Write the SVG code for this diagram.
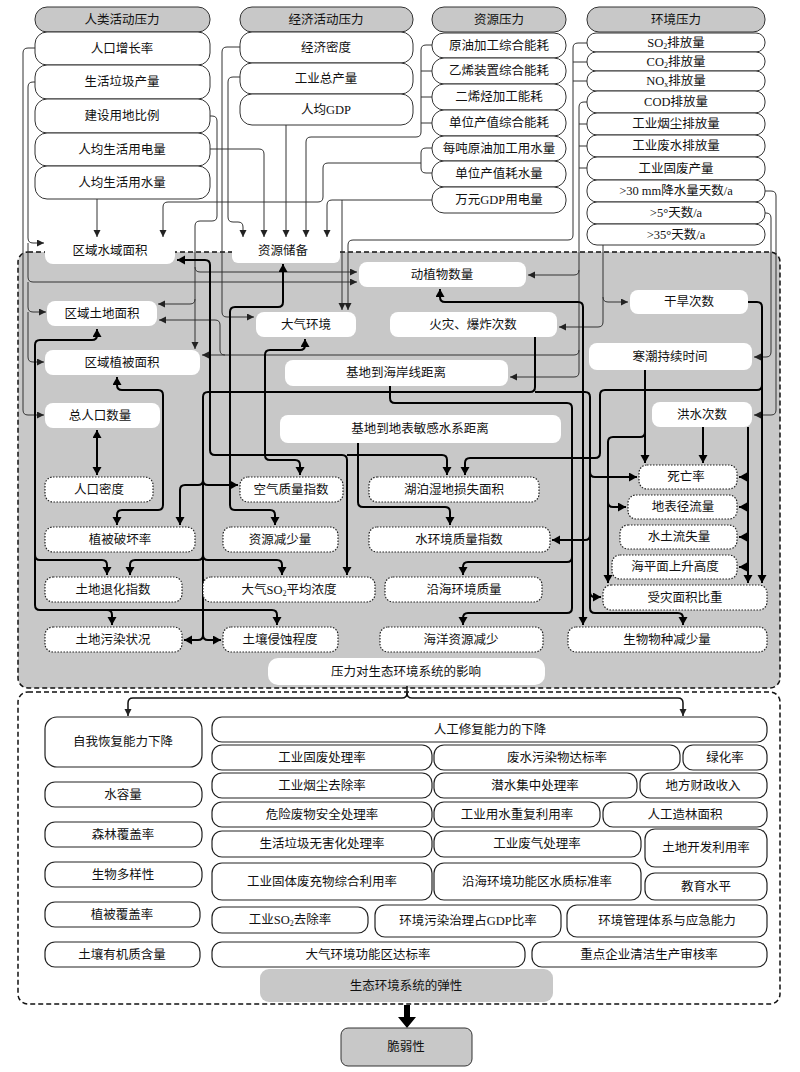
<svg xmlns="http://www.w3.org/2000/svg" width="800" height="1072" viewBox="0 0 800 1072">
<defs>
<marker id="a1" markerUnits="userSpaceOnUse" markerWidth="8" markerHeight="8" refX="7" refY="3.5" orient="auto"><path d="M0,0 L7,3.5 L0,7 z" fill="#222"/></marker>
<marker id="a2" markerUnits="userSpaceOnUse" markerWidth="10" markerHeight="10" refX="8" refY="4.5" orient="auto-start-reverse"><path d="M0,0 L8,4.5 L0,9 z" fill="#000"/></marker>
<style>
text{font-family:"Liberation Serif","Noto Sans CJK SC",serif;font-size:12.5px;fill:#111;text-anchor:middle;dominant-baseline:central}
.hd{fill:#c8c8c8;stroke:#333;stroke-width:1}
.tn{fill:#fff;stroke:#333;stroke-width:1}
.wn{fill:#fff;stroke:none}
.dn{fill:#fff;stroke:#222;stroke-width:1.2;stroke-dasharray:1.5 1.5}
.bn{fill:#fff;stroke:#222;stroke-width:1.2}
.t{fill:none;stroke:#333;stroke-width:1}
.ta{fill:none;stroke:#333;stroke-width:1;marker-end:url(#a1)}
.ka{fill:none;stroke:#000;stroke-width:2;marker-end:url(#a2)}
.kb{fill:none;stroke:#000;stroke-width:2;marker-end:url(#a2);marker-start:url(#a2)}
.ma{fill:none;stroke:#111;stroke-width:1.5;marker-end:url(#a1)}
.reg{fill:#c8c8c8;stroke:#111;stroke-width:1.5;stroke-dasharray:5 3}
.reg2{fill:#fff;stroke:#111;stroke-width:1.5;stroke-dasharray:5 3}
</style>
</defs>
<rect width="800" height="1072" fill="#fff"/>
<g id="regions">
<rect class="reg" x="18" y="252" width="762" height="436" rx="10"/>
<rect class="reg2" x="18" y="692" width="762" height="312" rx="10"/>
</g>
<g id="connectors">
<!-- thin top connectors -->
<path class="ta" d="M35,48 H28 Q23,48 23,53 V410 Q23,415 28,415 H44"/>
<path class="ta" d="M35,82 H33 Q28,82 28,87 V238 Q28,243 33,243 H44"/>
<path class="ta" d="M28,243 V277 Q28,282 33,282 H357"/>
<path class="ta" d="M28,282 V307 Q28,312 33,312 H46"/>
<path class="ta" d="M28,312 V357 Q28,362 33,362 H44"/>
<path class="ta" d="M210,116 H212 Q217,116 217,121 V216 Q217,221 212,221 H200 Q195,221 195,226 V349"/>
<path class="ta" d="M195,267 Q195,272 200,272 H357"/>
<path class="ta" d="M195,299 Q195,304 190,304 H158"/>
<path class="ta" d="M210,149 H259 Q264,149 264,154 V237"/>
<path class="ta" d="M97,199 V237"/>
<path class="ta" d="M240,77 H233 Q228,77 228,82 V217 Q228,222 233,222 H238 Q243,222 243,227 V237"/>
<path class="ta" d="M240,47 H227 Q222,47 222,52 V312 Q222,317 227,317 H254"/>
<path class="ta" d="M286,125 V237"/>
<path class="ta" d="M432,45 H426 Q421,45 421,50 V132 Q421,137 416,137 H311 Q306,137 306,142 V237"/>
<path class="t" d="M432,71 H421 M432,97 H421 M432,123 H421"/>
<path class="t" d="M432,148 H426 Q421,148 421,153 V168 Q421,173 426,173 H432"/>
<path class="ta" d="M421,163 H328 Q323,163 323,168 V197 Q323,202 318,202 H168 Q163,202 163,207 V237"/>
<path class="ta" d="M432,200 H332 Q327,200 327,205 V237"/>
<path class="ta" d="M342,200 Q342,200 342,205 V310"/>
<path class="ta" d="M587,43 H578 Q573,43 573,48 V235 Q573,240 568,240 H353 Q348,240 348,245 V310"/>
<path class="t" d="M587,62 H573 M587,81 H573"/>
<path class="ta" d="M587,102 H584 Q579,102 579,107 V270 Q579,275 574,275 H528"/>
<path class="t" d="M587,124 H579 M587,146 H579 M587,168 H579"/>
<path class="ta" d="M579,270 V350 Q579,355 574,355 H202"/>
<path class="ta" d="M579,350 V372 Q579,377 574,377 H510"/>
<path class="ta" d="M225,355 Q220,355 220,350 V325 Q220,320 215,320 H159"/>
<path class="ta" d="M603,245 V297 Q603,302 608,302 H628"/>
<path class="ta" d="M603,297 V322 Q603,327 598,327 H559"/>
<path class="ta" d="M765,213 H766 Q771,213 771,218 V352 Q771,357 766,357 H754"/>
<path class="ta" d="M765,191 H771 Q776,191 776,196 V410 Q776,415 771,415 H754"/>
<!-- thick connectors -->
<path class="kb" d="M97,329 V335 Q97,340 92,340 H40 Q35,340 35,345 V605 Q35,610 40,610 H272 Q277,610 277,615 V625"/>
<path class="ka" d="M35,555 Q35,560 40,560 H102 Q107,560 107,565 V575"/>
<path class="ka" d="M107,610 Q112,610 112,615 V625"/>
<path class="kb" d="M97,430 V475"/>
<path class="kb" d="M117,377 V385 Q117,390 122,390 H158 Q163,390 163,395 V505 Q163,510 158,510 H122 Q117,510 117,515 V525"/>
<path class="ka" d="M535,337 V387 Q535,392 530,392 H208 Q203,392 203,397 V635 Q203,640 198,640 H184"/>
<path class="ka" d="M203,635 Q203,640 208,640 H221"/>
<path class="ka" d="M203,480 Q203,485 198,485 H185 Q180,485 180,490 V525"/>
<path class="ka" d="M203,480 Q203,485 208,485 H238"/>
<path class="ka" d="M203,555 Q203,560 198,560 H135 Q130,560 130,565 V575"/>
<path class="ka" d="M203,555 Q203,560 208,560 H277 Q282,560 282,565 V575"/>
<path class="ka" d="M535,392 H585 Q590,392 590,397 V608 Q590,613 595,613 H678 Q683,613 683,618 V625"/>
<path class="ka" d="M590,472 Q590,477 595,477 H637"/>
<path class="ka" d="M590,535 Q590,540 585,540 H552"/>
<path class="ka" d="M590,592 Q590,597 595,597 H601"/>
<path class="ka" d="M390,386 V398 Q390,403 395,403 H567 Q572,403 572,408 V608 Q572,613 567,613 H468 Q463,613 463,618 V625"/>
<path class="ka" d="M572,557 Q572,562 567,562 H468 Q463,562 463,567 V575"/>
<path class="kb" d="M440,289 V297 Q440,302 445,302 H578 Q583,302 583,307 V625"/>
<path class="kb" d="M283,264 V302 Q283,307 278,307 H235 Q230,307 230,312 V505 Q230,510 235,510 H270 Q275,510 275,515 V525"/>
<path class="kb" d="M177,260 H205 Q210,260 210,265 V450 Q210,455 215,455 H342 Q347,455 347,460 V575"/>
<path class="ka" d="M347,455 H442 Q447,455 447,460 V475"/>
<path class="kb" d="M305,339 V345 Q305,350 300,350 H270 Q265,350 265,355 V455 Q265,460 270,460 H295 Q300,460 300,465 V475"/>
<path class="ka" d="M358,443 V502 Q358,507 363,507 H445 Q450,507 450,512 V525"/>
<path class="ka" d="M748,302 H757 Q762,302 762,307 V583"/>
<path class="ka" d="M762,385 Q762,390 757,390 H605 Q600,390 600,395 V453 Q600,458 595,458 H470 Q465,458 465,463 V475"/>
<path class="ka" d="M645,370 V463"/>
<path class="ka" d="M645,432 Q645,437 640,437 H613 Q608,437 608,442 V583"/>
<path class="ka" d="M608,502 Q608,507 613,507 H626"/>
<path class="ka" d="M703,427 V463"/>
<path class="ka" d="M748,427 V583"/>
<path class="ka" d="M748,472 Q748,477 743,477 H739"/>
<path class="ka" d="M748,502 Q748,507 743,507 H739"/>
<path class="ka" d="M748,532 Q748,537 743,537 H739"/>
<path class="ka" d="M748,562 Q748,567 743,567 H739"/>
<!-- bottom -->
<path class="ma" d="M407,686 V693 Q407,698 402,698 H133 Q128,698 128,703 V716"/>
<path class="ma" d="M407,693 Q407,698 412,698 H678 Q683,698 683,703 V716"/>
<path d="M404,1005 H410 V1017 H416 L407,1028 L398,1017 H404 Z" fill="#000"/>
</g>
<g id="col-human">
<rect class="hd" x="35" y="7" width="175" height="25" rx="12"/><text x="122" y="19.5">人类活动压力</text>
<rect class="tn" x="35" y="32" width="175" height="33" rx="12"/><text x="122" y="48.5">人口增长率</text>
<rect class="tn" x="35" y="65" width="175" height="34" rx="12"/><text x="122" y="82">生活垃圾产量</text>
<rect class="tn" x="35" y="99" width="175" height="34" rx="12"/><text x="122" y="116">建设用地比例</text>
<rect class="tn" x="35" y="133" width="175" height="33" rx="12"/><text x="122" y="149.5">人均生活用电量</text>
<rect class="tn" x="35" y="166" width="175" height="33" rx="12"/><text x="122" y="182.5">人均生活用水量</text>
</g>
<g id="col-econ">
<rect class="hd" x="240" y="7" width="173" height="25" rx="12"/><text x="326" y="19.5">经济活动压力</text>
<rect class="tn" x="240" y="32" width="173" height="31" rx="12"/><text x="326" y="47.5">经济密度</text>
<rect class="tn" x="240" y="63" width="173" height="31" rx="12"/><text x="326" y="78.5">工业总产量</text>
<rect class="tn" x="240" y="94" width="173" height="31" rx="12"/><text x="326" y="109.5">人均GDP</text>
</g>
<g id="col-res">
<rect class="hd" x="432" y="7" width="134" height="25" rx="12"/><text x="499" y="19.5">资源压力</text>
<rect class="tn" x="432" y="33" width="134" height="25" rx="12"/><text x="499" y="45.5">原油加工综合能耗</text>
<rect class="tn" x="432" y="58" width="134" height="26" rx="12"/><text x="499" y="71">乙烯装置综合能耗</text>
<rect class="tn" x="432" y="84" width="134" height="26" rx="12"/><text x="499" y="97">二烯烃加工能耗</text>
<rect class="tn" x="432" y="110" width="134" height="26" rx="12"/><text x="499" y="123">单位产值综合能耗</text>
<rect class="tn" x="432" y="136" width="134" height="25" rx="12"/><text x="499" y="148.5">每吨原油加工用水量</text>
<rect class="tn" x="432" y="161" width="134" height="26" rx="12"/><text x="499" y="174">单位产值耗水量</text>
<rect class="tn" x="432" y="187" width="134" height="26" rx="12"/><text x="499" y="200">万元GDP用电量</text>
</g>
<g id="col-env">
<rect class="hd" x="587" y="7" width="178" height="25" rx="12"/><text x="676" y="19.5">环境压力</text>
<rect class="tn" x="587" y="33" width="178" height="19" rx="9"/><text x="676" y="42.5">SO<tspan font-size="8" dy="3">2</tspan><tspan dy="-3">排放量</tspan></text>
<rect class="tn" x="587" y="52" width="178" height="19" rx="9"/><text x="676" y="61.5">CO<tspan font-size="8" dy="3">2</tspan><tspan dy="-3">排放量</tspan></text>
<rect class="tn" x="587" y="71" width="178" height="20" rx="9"/><text x="676" y="81">NO<tspan font-size="8" dy="3">x</tspan><tspan dy="-3">排放量</tspan></text>
<rect class="tn" x="587" y="91" width="178" height="22" rx="10"/><text x="676" y="102">COD排放量</text>
<rect class="tn" x="587" y="113" width="178" height="22" rx="10"/><text x="676" y="124">工业烟尘排放量</text>
<rect class="tn" x="587" y="135" width="178" height="22" rx="10"/><text x="676" y="146">工业废水排放量</text>
<rect class="tn" x="587" y="157" width="178" height="23" rx="10"/><text x="676" y="168.5">工业固废产量</text>
<rect class="tn" x="587" y="180" width="178" height="22" rx="10"/><text x="676" y="191">&gt;30 mm降水量天数/a</text>
<rect class="tn" x="587" y="202" width="178" height="22" rx="10"/><text x="676" y="213">&gt;5°天数/a</text>
<rect class="tn" x="587" y="224" width="178" height="21" rx="10"/><text x="676" y="234.5">&gt;35°天数/a</text>
</g>
<g id="state-nodes">
<rect class="wn" x="45" y="238" width="130" height="26" rx="8"/><text x="110" y="251">区域水域面积</text>
<rect class="wn" x="232" y="238" width="108" height="25" rx="6"/><text x="283" y="251">资源储备</text>
<rect class="wn" x="359" y="262" width="167" height="25" rx="8"/><text x="442" y="274.5">动植物数量</text>
<rect class="wn" x="47" y="301" width="110" height="25" rx="8"/><text x="102" y="313.5">区域土地面积</text>
<rect class="wn" x="256" y="312" width="100" height="25" rx="8"/><text x="306" y="324.5">大气环境</text>
<rect class="wn" x="390" y="312" width="167" height="25" rx="8"/><text x="473" y="324.5">火灾、爆炸次数</text>
<rect class="wn" x="630" y="290" width="118" height="24" rx="8"/><text x="689" y="302">干旱次数</text>
<rect class="wn" x="45" y="350" width="155" height="25" rx="8"/><text x="122" y="362.5">区域植被面积</text>
<rect class="wn" x="589" y="343" width="163" height="27" rx="8"/><text x="670" y="356.5">寒潮持续时间</text>
<rect class="wn" x="285" y="360" width="223" height="26" rx="8"/><text x="396" y="373">基地到海岸线距离</text>
<rect class="wn" x="45" y="403" width="115" height="25" rx="8"/><text x="100" y="415.5">总人口数量</text>
<rect class="wn" x="652" y="402" width="100" height="25" rx="8"/><text x="702" y="414.5">洪水次数</text>
<rect class="wn" x="280" y="415" width="281" height="28" rx="8"/><text x="420" y="429">基地到地表敏感水系距离</text>
</g>
<g id="impact-nodes">
<rect class="dn" x="45" y="477" width="108" height="25" rx="8"/><text x="99" y="489.5">人口密度</text>
<rect class="dn" x="45" y="527" width="150" height="25" rx="8"/><text x="120" y="539.5">植被破坏率</text>
<rect class="dn" x="45" y="577" width="137" height="25" rx="8"/><text x="113" y="589.5">土地退化指数</text>
<rect class="dn" x="45" y="627" width="137" height="25" rx="8"/><text x="113" y="639.5">土地污染状况</text>
<rect class="dn" x="240" y="477" width="103" height="25" rx="8"/><text x="291" y="489.5">空气质量指数</text>
<rect class="dn" x="223" y="527" width="115" height="25" rx="8"/><text x="280" y="539.5">资源减少量</text>
<rect class="dn" x="203" y="577" width="172" height="25" rx="8"/><text x="289" y="589.5">大气SO<tspan font-size="8" dy="3">2</tspan><tspan dy="-3">平均浓度</tspan></text>
<rect class="dn" x="223" y="627" width="115" height="25" rx="8"/><text x="280" y="639.5">土壤侵蚀程度</text>
<rect class="dn" x="369" y="477" width="170" height="25" rx="8"/><text x="454" y="489.5">湖泊湿地损失面积</text>
<rect class="dn" x="369" y="527" width="181" height="25" rx="8"/><text x="459" y="539.5">水环境质量指数</text>
<rect class="dn" x="385" y="577" width="157" height="25" rx="8"/><text x="464" y="589.5">沿海环境质量</text>
<rect class="dn" x="380" y="627" width="163" height="25" rx="8"/><text x="461" y="639.5">海洋资源减少</text>
<rect class="dn" x="639" y="465" width="98" height="24" rx="8"/><text x="686" y="477">死亡率</text>
<rect class="dn" x="628" y="495" width="109" height="24" rx="8"/><text x="683" y="507">地表径流量</text>
<rect class="dn" x="620" y="525" width="117" height="24" rx="8"/><text x="679" y="537">水土流失量</text>
<rect class="dn" x="612" y="555" width="125" height="24" rx="8"/><text x="675" y="567">海平面上升高度</text>
<rect class="dn" x="603" y="585" width="164" height="25" rx="8"/><text x="685" y="597.5">受灾面积比重</text>
<rect class="dn" x="568" y="627" width="199" height="25" rx="8"/><text x="667" y="639.5">生物物种减少量</text>
<rect class="wn" x="268" y="658" width="277" height="27" rx="10"/><text x="406" y="671.5">压力对生态环境系统的影响</text>
</g>
<g id="resilience-nodes">
<rect class="bn" x="45" y="717" width="157" height="50" rx="12"/><text x="123" y="742">自我恢复能力下降</text>
<rect class="bn" x="45" y="782" width="157" height="25" rx="10"/><text x="123" y="794.5">水容量</text>
<rect class="bn" x="45" y="822" width="157" height="25" rx="10"/><text x="123" y="834.5">森林覆盖率</text>
<rect class="bn" x="45" y="862" width="157" height="25" rx="10"/><text x="123" y="874.5">生物多样性</text>
<rect class="bn" x="45" y="902" width="155" height="25" rx="10"/><text x="122" y="914.5">植被覆盖率</text>
<rect class="bn" x="45" y="942" width="155" height="25" rx="10"/><text x="122" y="954.5">土壤有机质含量</text>
<rect class="bn" x="212" y="717" width="555" height="25" rx="10"/><text x="490" y="729.5">人工修复能力的下降</text>
<rect class="bn" x="212" y="745" width="220" height="25" rx="10"/><text x="322" y="757.5">工业固废处理率</text>
<rect class="bn" x="434" y="745" width="246" height="25" rx="10"/><text x="557" y="757.5">废水污染物达标率</text>
<rect class="bn" x="683" y="745" width="84" height="25" rx="10"/><text x="725" y="757.5">绿化率</text>
<rect class="bn" x="212" y="773" width="220" height="25" rx="10"/><text x="322" y="785.5">工业烟尘去除率</text>
<rect class="bn" x="434" y="773" width="203" height="25" rx="10"/><text x="535" y="785.5">潜水集中处理率</text>
<rect class="bn" x="640" y="773" width="127" height="25" rx="10"/><text x="703" y="785.5">地方财政收入</text>
<rect class="bn" x="212" y="802" width="220" height="25" rx="10"/><text x="322" y="814.5">危险废物安全处理率</text>
<rect class="bn" x="434" y="802" width="166" height="25" rx="10"/><text x="517" y="814.5">工业用水重复利用率</text>
<rect class="bn" x="603" y="802" width="164" height="25" rx="10"/><text x="685" y="814.5">人工造林面积</text>
<rect class="bn" x="212" y="831" width="220" height="26" rx="10"/><text x="322" y="844">生活垃圾无害化处理率</text>
<rect class="bn" x="434" y="831" width="207" height="26" rx="10"/><text x="537" y="844">工业废气处理率</text>
<rect class="bn" x="645" y="829" width="122" height="38" rx="10"/><text x="706" y="848">土地开发利用率</text>
<rect class="bn" x="212" y="863" width="220" height="37" rx="10"/><text x="322" y="881.5">工业固体废充物综合利用率</text>
<rect class="bn" x="434" y="863" width="207" height="37" rx="10"/><text x="537" y="881.5">沿海环境功能区水质标准率</text>
<rect class="bn" x="645" y="873" width="122" height="27" rx="10"/><text x="706" y="886.5">教育水平</text>
<rect class="bn" x="212" y="907" width="156" height="26" rx="10"/><text x="290" y="920">工业SO<tspan font-size="8" dy="3">2</tspan><tspan dy="-3">去除率</tspan></text>
<rect class="bn" x="375" y="905" width="186" height="32" rx="10"/><text x="468" y="921">环境污染治理占GDP比率</text>
<rect class="bn" x="567" y="905" width="200" height="32" rx="10"/><text x="667" y="921">环境管理体系与应急能力</text>
<rect class="bn" x="212" y="942" width="313" height="25" rx="10"/><text x="368" y="954.5">大气环境功能区达标率</text>
<rect class="bn" x="532" y="942" width="235" height="25" rx="10"/><text x="649" y="954.5">重点企业清洁生产审核率</text>
<rect x="260" y="969" width="293" height="33" rx="9" fill="#c8c8c8"/><text x="406" y="985.5">生态环境系统的弹性</text>
</g>
<g id="vulnerability">
<rect x="341" y="1028" width="131" height="38" rx="7" fill="#c8c8c8" stroke="#333" stroke-width="1"/><text x="406" y="1047">脆弱性</text>
</g>
</svg>
